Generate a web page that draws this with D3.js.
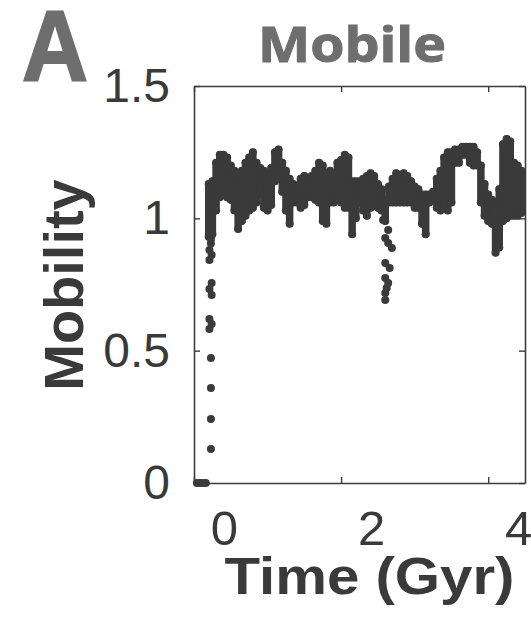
<!DOCTYPE html>
<html>
<head>
<meta charset="utf-8">
<script src="https://cdn.jsdelivr.net/npm/d3@7"></script>
<style>
  html, body { margin: 0; padding: 0; background: #ffffff; overflow: hidden; }
  svg { display: block; }
</style>
</head>
<body>
<svg id="chart" width="531" height="617"></svg>
<script>
// Mobility band: at each time step the range covered by the densely sampled series
const bandTime = [0.20, 0.25, 0.30, 0.35, 0.40, 0.45, 0.50, 0.55, 0.60, 0.65,
  0.70, 0.75, 0.80, 0.85, 0.90, 0.95, 1.00, 1.05, 1.10, 1.15,
  1.20, 1.25, 1.30, 1.35, 1.40, 1.45, 1.50, 1.55, 1.60, 1.65,
  1.70, 1.75, 1.80, 1.85, 1.90, 1.95, 2.00, 2.05, 2.10, 2.15,
  2.20, 2.25, 2.30, 2.35, 2.40, 2.45, 2.50, 2.55, 2.60, 2.65,
  2.70, 2.75, 2.80, 2.85, 2.90, 2.95, 3.00, 3.05, 3.10, 3.15,
  3.20, 3.25, 3.30, 3.35, 3.40, 3.45, 3.50, 3.55, 3.60, 3.65,
  3.70, 3.75, 3.80, 3.85, 3.90, 3.95, 4.00, 4.05, 4.10, 4.15,
  4.20, 4.25, 4.30, 4.35, 4.40, 4.45];
const bandHigh = [1.13, 1.14, 1.21, 1.24, 1.24, 1.23, 1.20, 1.18, 1.17, 1.18,
  1.21, 1.23, 1.25, 1.21, 1.19, 1.18, 1.17, 1.19, 1.25, 1.26,
  1.21, 1.18, 1.15, 1.13, 1.11, 1.15, 1.16, 1.15, 1.16, 1.18,
  1.21, 1.20, 1.17, 1.18, 1.16, 1.21, 1.22, 1.24, 1.23, 1.14,
  1.14, 1.14, 1.15, 1.16, 1.17, 1.16, 1.13, 1.11, 1.07, 1.12,
  1.15, 1.17, 1.16, 1.17, 1.16, 1.14, 1.12, 1.11, 1.09, 1.09,
  1.09, 1.10, 1.15, 1.18, 1.23, 1.25, 1.25, 1.26, 1.26, 1.27,
  1.27, 1.27, 1.27, 1.25, 1.20, 1.13, 1.09, 1.07, 1.06, 1.11,
  1.28, 1.30, 1.29, 1.21, 1.20, 1.18];
const bandLow = [0.93, 0.94, 1.03, 1.08, 1.09, 1.08, 1.07, 1.03, 0.96, 0.99,
  1.01, 1.03, 1.04, 1.06, 1.09, 1.04, 1.03, 1.05, 1.14, 1.15,
  1.10, 1.03, 0.98, 1.06, 1.06, 1.04, 1.05, 1.08, 1.08, 1.07,
  1.06, 0.99, 0.98, 1.06, 1.06, 1.08, 1.06, 1.04, 1.04, 0.94,
  1.00, 1.06, 1.03, 1.01, 1.04, 1.06, 1.04, 1.03, 0.99, 1.06,
  1.06, 1.06, 1.06, 1.06, 1.06, 1.06, 1.04, 1.04, 0.98, 0.94,
  1.06, 1.07, 1.04, 1.03, 1.04, 1.03, 1.06, 1.21, 1.21, 1.24,
  1.24, 1.21, 1.20, 1.20, 1.06, 1.01, 0.99, 0.98, 0.87, 0.89,
  0.99, 1.00, 1.01, 1.01, 1.01, 1.02];

// Isolated samples: the start-up rise and the dip near 2.6 Gyr
const sampleTime = [0.04, 0.08, 0.12, 0.16,
  0.23, 0.23, 0.23, 0.23,
  0.21, 0.24, 0.21, 0.24, 0.21, 0.24, 0.21, 0.24, 0.21, 0.23, 0.23,
  2.57, 2.64, 2.60, 2.64, 2.69, 2.60, 2.66, 2.60, 2.64, 2.62, 2.60, 2.60];
const sampleMob = [0.00, 0.00, 0.00, 0.00,
  0.128, 0.242, 0.359, 0.472,
  0.582, 0.601, 0.620, 0.710, 0.733, 0.756, 0.843, 0.861, 0.880, 0.905, 0.922,
  0.994, 0.956, 0.926, 0.907, 0.888, 0.831, 0.812, 0.775, 0.756, 0.737, 0.718, 0.691];

const xTicks = [0, 2, 4];
const xTickLabels = ["0", "2", "4"];
const yTicks = [0, 0.5, 1, 1.5];
const yTickLabels = ["0", "0.5", "1", "1.5"];

const panelLetter = "A";
const title = "Mobile";
const xTitle = "Time (Gyr)";
const yTitle = "Mobility";

const svg = d3.select("#chart");
const box = { left: 194, right: 525, top: 86, bottom: 483 };
const ink = "#3a3a3a";
const grey = "#6e6e6e";
const axisColor = "#3c3c3c";

const x = d3.scaleLinear().domain([0, 4.5]).range([box.left, box.right]);
const y = d3.scaleLinear().domain([0, 1.5]).range([box.bottom, box.top]);

svg.append("rect").attr("width", 531).attr("height", 617).attr("fill", "#ffffff");

function styleAxis(g) {
  g.selectAll(".domain").attr("stroke", axisColor).attr("stroke-width", 1.6);
  g.selectAll(".tick line").attr("stroke", axisColor).attr("stroke-width", 1.4);
}

// Bottom axis with labels; labels sit right of their ticks
const gx = svg.append("g")
  .attr("transform", `translate(0,${box.bottom})`)
  .call(d3.axisBottom(x).tickValues(xTicks).tickSizeInner(-6).tickSizeOuter(0)
    .tickPadding(27).tickFormat((d, i) => xTickLabels[i]));
styleAxis(gx);
gx.selectAll(".tick text")
  .attr("dx", 30)
  .attr("fill", ink)
  .style("font-family", "'Liberation Sans', Arial, sans-serif")
  .style("font-size", "49px");

// Top axis, ticks only
const gxt = svg.append("g")
  .attr("transform", `translate(0,${box.top})`)
  .call(d3.axisTop(x).tickValues(xTicks).tickSizeInner(-6).tickSizeOuter(0).tickFormat(""));
styleAxis(gxt);

// Left axis with labels
const gy = svg.append("g")
  .attr("transform", `translate(${box.left},0)`)
  .call(d3.axisLeft(y).tickValues(yTicks).tickSizeInner(-6).tickSizeOuter(0)
    .tickPadding(24).tickFormat((d, i) => yTickLabels[i]));
styleAxis(gy);
gy.selectAll(".tick text")
  .attr("fill", ink)
  .style("font-family", "'Liberation Sans', Arial, sans-serif")
  .style("font-size", "48px");

// Right axis, ticks only
const gyr = svg.append("g")
  .attr("transform", `translate(${box.right},0)`)
  .call(d3.axisRight(y).tickValues(yTicks).tickSizeInner(-6).tickSizeOuter(0).tickFormat(""));
styleAxis(gyr);

// Data: band columns, with round end dots, and isolated samples
const marks = svg.append("g");
marks.selectAll("line.band")
  .data(bandTime)
  .join("line")
  .attr("class", "band")
  .attr("x1", d => x(d)).attr("x2", d => x(d))
  .attr("y1", (d, i) => y(bandLow[i]))
  .attr("y2", (d, i) => y(bandHigh[i]))
  .attr("stroke", ink)
  .attr("stroke-width", 7.5)
  .attr("stroke-linecap", "round");

marks.selectAll("circle.top")
  .data(bandTime)
  .join("circle")
  .attr("class", "top")
  .attr("cx", d => x(d))
  .attr("cy", (d, i) => y(bandHigh[i]))
  .attr("r", 4)
  .attr("fill", ink);

marks.selectAll("circle.bottom")
  .data(bandTime)
  .join("circle")
  .attr("class", "bottom")
  .attr("cx", d => x(d))
  .attr("cy", (d, i) => y(bandLow[i]))
  .attr("r", 4)
  .attr("fill", ink);

marks.selectAll("circle.sample")
  .data(sampleTime)
  .join("circle")
  .attr("class", "sample")
  .attr("cx", d => x(d))
  .attr("cy", (d, i) => y(sampleMob[i]))
  .attr("r", 4)
  .attr("fill", ink);

// Stretch a text element horizontally to a given width about an anchor x
function fitWidth(sel, ax, w) {
  const bw = sel.node().getBBox().width;
  const k = w / bw;
  sel.attr("transform", `translate(${ax},0) scale(${k},1) translate(${-ax},0)`);
}

const letter = svg.append("text")
  .attr("x", 22).attr("y", 81)
  .attr("fill", grey)
  .attr("stroke", grey)
  .attr("stroke-width", 2)
  .style("font-family", "'Liberation Sans', Arial, sans-serif")
  .style("font-weight", "bold")
  .style("font-size", "100px")
  .text(panelLetter);
fitWidth(letter, 22, 66);

const titleText = svg.append("text")
  .attr("x", 352).attr("y", 62)
  .attr("text-anchor", "middle")
  .attr("fill", grey)
  .attr("stroke", grey)
  .attr("stroke-width", 1)
  .style("font-family", "'Open Sans', sans-serif")
  .style("font-weight", "bold")
  .style("font-size", "48px")
  .text(title);
fitWidth(titleText, 352, 188);

const xt = svg.append("text")
  .attr("x", 369.5).attr("y", 594)
  .attr("text-anchor", "middle")
  .attr("fill", ink)
  .style("font-family", "'Liberation Sans', Arial, sans-serif")
  .style("font-weight", "bold")
  .style("font-size", "52px")
  .text(xTitle);
fitWidth(xt, 369.5, 290);

svg.append("text")
  .attr("transform", "translate(83,285) rotate(-90)")
  .attr("text-anchor", "middle")
  .attr("fill", ink)
  .style("font-family", "'Liberation Sans', Arial, sans-serif")
  .style("font-weight", "bold")
  .style("font-size", "56px")
  .text(yTitle);
</script>
</body>
</html>
